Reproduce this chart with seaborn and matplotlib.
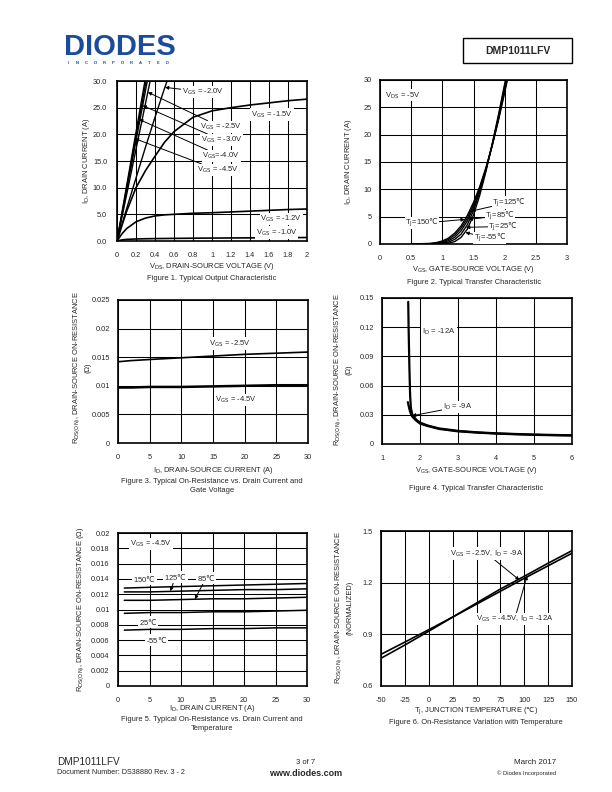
import matplotlib
matplotlib.use("Agg")
import matplotlib.pyplot as plt
from matplotlib.patches import Rectangle
import seaborn as sns

############### Data ##################################
# Figure 1 - output characteristic, I_D (A) vs V_DS (V)
f1_vds_steep = [0.0, 0.1, 0.2, 0.3, 0.4, 0.5, 0.6]
f1_id_m45 = [0.0, 10.2, 20.4, 30.6, 40.8, 51.0, 61.2]
f1_id_m40 = [0.0, 9.8, 19.6, 29.4, 39.2, 49.0, 58.8]
f1_id_m30 = [0.0, 9.4, 18.8, 28.2, 37.6, 47.0, 56.4]
f1_id_m25 = [0.0, 8.6, 17.2, 25.8, 34.4, 43.0, 51.6]
f1_id_m20 = [0.0, 6.0, 11.8, 17.6, 23.2, 28.6, 33.8]
f1_vds = [0.0, 0.05, 0.1, 0.2, 0.3, 0.4, 0.5, 0.6, 0.8, 1.0, 1.2, 1.4, 1.6, 1.8, 2.0]
f1_id_m15 = [0.0, 2.8, 5.5, 10.0, 13.2, 15.9, 18.5, 20.5, 23.2, 24.4, 25.0, 25.5, 25.9, 26.3, 26.6]
f1_id_m12 = [0.0, 1.3, 2.3, 3.6, 4.3, 4.7, 4.9, 5.0, 5.2, 5.3, 5.45, 5.6, 5.75, 5.9, 6.0]
f1_id_m10 = [0.0, 0.2, 0.3, 0.38, 0.42, 0.45, 0.47, 0.49, 0.52, 0.55, 0.57, 0.59, 0.61, 0.63, 0.65]
f1_xticks = [0, 0.2, 0.4, 0.6, 0.8, 1.0, 1.2, 1.4, 1.6, 1.8, 2.0]
f1_xticklabels = ["0", "0.2", "0.4", "0.6", "0.8", "1", "1.2", "1.4", "1.6", "1.8", "2"]
f1_yticks = [0, 5, 10, 15, 20, 25, 30]
f1_yticklabels = ["0.0", "5.0", "10.0", "15.0", "20.0", "25.0", "30.0"]

# Figure 2 - transfer characteristic, I_D (A) vs V_GS (V)
f2_vgs = [0.5, 0.8, 0.9, 1.0, 1.1, 1.2, 1.3, 1.4, 1.5, 1.6, 1.7, 1.8, 1.9, 2.0, 2.1]
f2_id_150 = [0.02, 0.1, 0.25, 0.55, 1.1, 2.0, 3.3, 5.2, 7.6, 10.5, 14.0, 18.0, 22.6, 27.7, 33.0]
f2_id_125 = [0.01, 0.07, 0.17, 0.4, 0.85, 1.65, 2.9, 4.7, 7.2, 10.2, 13.8, 18.0, 22.8, 28.0, 33.5]
f2_id_85 = [0.005, 0.04, 0.1, 0.25, 0.6, 1.25, 2.4, 4.2, 6.7, 9.9, 13.7, 18.1, 23.0, 28.4, 34.0]
f2_id_25 = [0.0, 0.02, 0.05, 0.13, 0.35, 0.85, 1.8, 3.5, 6.1, 9.5, 13.5, 18.2, 23.3, 28.8, 34.5]
f2_id_m55 = [0.0, 0.0, 0.02, 0.05, 0.15, 0.45, 1.2, 2.7, 5.3, 8.9, 13.3, 18.3, 23.6, 29.3, 35.0]
f2_xticks = [0, 0.5, 1.0, 1.5, 2.0, 2.5, 3.0]
f2_xticklabels = ["0", "0.5", "1", "1.5", "2", "2.5", "3"]
f2_yticks = [0, 5, 10, 15, 20, 25, 30]
f2_yticklabels = ["0", "5", "10", "15", "20", "25", "30"]

# Figure 3 - R_DS(ON) (ohm) vs I_D (A)
f3_id = [0, 2, 5, 10, 15, 20, 25, 30]
f3_r_m25 = [0.0142, 0.0144, 0.0146, 0.0149, 0.0152, 0.0155, 0.0157, 0.0159]
f3_r_m45 = [0.0097, 0.0097, 0.0098, 0.0098, 0.0099, 0.0100, 0.0101, 0.0101]
f3_xticks = [0, 5, 10, 15, 20, 25, 30]
f3_xticklabels = ["0", "5", "10", "15", "20", "25", "30"]
f3_yticks = [0, 0.005, 0.01, 0.015, 0.02, 0.025]
f3_yticklabels = ["0", "0.005", "0.01", "0.015", "0.02", "0.025"]

# Figure 4 - R_DS(ON) (ohm) vs V_GS (V)
f4_vgs_12 = [1.69, 1.70, 1.72, 1.74, 1.76, 1.80, 1.9, 2.0, 2.2, 2.5, 3.0, 3.5, 4.0, 4.5, 5.0, 5.5, 6.0]
f4_r_12 = [0.146, 0.12, 0.08, 0.05, 0.037, 0.030, 0.025, 0.022, 0.019, 0.016, 0.0135, 0.012, 0.011,
           0.0103, 0.0097, 0.0093, 0.009]
f4_vgs_9 = [1.68, 1.72, 1.76, 1.8, 1.9, 2.0, 2.2, 2.5, 3.0, 3.5, 4.0, 4.5, 5.0, 5.5, 6.0]
f4_r_9 = [0.043, 0.036, 0.031, 0.028, 0.024, 0.021, 0.0185, 0.0155, 0.013, 0.0117, 0.0107, 0.010,
          0.0094, 0.009, 0.0087]
f4_xticks = [1, 2, 3, 4, 5, 6]
f4_xticklabels = ["1", "2", "3", "4", "5", "6"]
f4_yticks = [0, 0.03, 0.06, 0.09, 0.12, 0.15]
f4_yticklabels = ["0", "0.03", "0.06", "0.09", "0.12", "0.15"]

# Figure 5 - R_DS(ON) (ohm) vs I_D (A), V_GS = -4.5V
f5_id = [1, 5, 10, 15, 20, 25, 30]
f5_r_150 = [0.0128, 0.0129, 0.0130, 0.0131, 0.0132, 0.0133, 0.0134]
f5_r_125 = [0.0123, 0.0123, 0.0124, 0.0125, 0.0126, 0.0126, 0.0127]
f5_r_85 = [0.0112, 0.0112, 0.0113, 0.0114, 0.0114, 0.0115, 0.0116]
f5_r_25 = [0.0095, 0.0096, 0.0096, 0.0097, 0.0097, 0.0098, 0.0099]
f5_r_m55 = [0.0073, 0.0074, 0.0074, 0.0075, 0.0075, 0.0076, 0.0076]
f5_xticks = [0, 5, 10, 15, 20, 25, 30]
f5_xticklabels = ["0", "5", "10", "15", "20", "25", "30"]
f5_yticks = [0, 0.002, 0.004, 0.006, 0.008, 0.01, 0.012, 0.014, 0.016, 0.018, 0.02]
f5_yticklabels = ["0", "0.002", "0.004", "0.006", "0.008", "0.01", "0.012", "0.014", "0.016", "0.018", "0.02"]

# Figure 6 - normalized R_DS(ON) vs T_J (C)
f6_tj = [-50, -25, 0, 25, 50, 75, 100, 125, 150]
f6_r_a = [0.761, 0.838, 0.918, 1.0, 1.082, 1.163, 1.237, 1.313, 1.386]
f6_r_b = [0.784, 0.855, 0.927, 1.0, 1.075, 1.15, 1.225, 1.298, 1.371]
f6_xticks = [-50, -25, 0, 25, 50, 75, 100, 125, 150]
f6_xticklabels = ["-50", "-25", "0", "25", "50", "75", "100", "125", "150"]
f6_yticks = [0.6, 0.9, 1.2, 1.5]
f6_yticklabels = ["0.6", "0.9", "1.2", "1.5"]

############### Style ##################################
sns.set_style("white")
plt.rcParams['font.family'] = ['Liberation Sans', 'DejaVu Sans']
plt.rcParams['mathtext.fontset'] = 'dejavusans'

W, H = 612, 792
TICK = 5.3
LAB = 5.4
CAP = 5.4
ANN = 5.5
DEG = r"$\mathrm{℃}$"

fig = plt.figure(figsize=(W / 100, H / 100), dpi=100)


def add_ax(l, t, r, b):
    return fig.add_axes([l / W, 1 - b / H, (r - l) / W, (b - t) / H])


def ptext(x, y, s, size, **kw):
    kw.setdefault("va", "center")
    kw.setdefault("ha", "center")
    fig.text(x / W, 1 - y / H, s, fontsize=size, **kw)


def setup(ax, xlim, ylim, xt, xtl, yt, ytl, ypad=6):
    ax.set_xlim(xlim)
    ax.set_ylim(ylim)
    ax.set_xticks(xt)
    ax.set_xticklabels(xtl)
    ax.set_yticks(yt)
    ax.set_yticklabels(ytl)
    ax.set_xlabel("")
    ax.set_ylabel("")
    ax.grid(True, color="black", linewidth=0.75)
    ax.set_axisbelow(True)
    ax.tick_params(axis="x", length=0, labelsize=TICK, pad=8)
    ax.tick_params(axis="y", length=0, labelsize=TICK, pad=ypad)
    for s in ax.spines.values():
        s.set_color("black")
        s.set_linewidth(1.2)


def curve(ax, xs, ys, lw=1.0):
    sns.lineplot(x=xs, y=ys, ax=ax, color="black", linewidth=lw,
                 estimator=None, sort=False, legend=False)


def note(ax, text, xytext, tip=None, ha="left", pad=0.12):
    kw = dict(fontsize=ANN, ha=ha, va="center", zorder=5,
              bbox=dict(boxstyle="square,pad=%g" % pad, fc="white", ec="none"))
    if tip is None:
        ax.text(xytext[0], xytext[1], text, **kw)
    else:
        ax.annotate(text, xy=tip, xytext=xytext,
                    arrowprops=dict(arrowstyle="-|>", color="black", lw=0.7,
                                    mutation_scale=5, shrinkA=0, shrinkB=0),
                    **kw)


############### Figure 1 ##################################
ax1 = add_ax(117, 81, 307, 241)
for ys in [f1_id_m45, f1_id_m40, f1_id_m30, f1_id_m25, f1_id_m20]:
    curve(ax1, f1_vds_steep, ys)
for ys in [f1_id_m15, f1_id_m12, f1_id_m10]:
    curve(ax1, f1_vds, ys, lw=1.2)
setup(ax1, (0, 2), (0, 30), f1_xticks, f1_xticklabels, f1_yticks, f1_yticklabels, ypad=7)
note(ax1, r"V$_\mathrm{GS}$ = -2.0V", (0.68, 28.0), (0.505, 28.8))
note(ax1, r"V$_\mathrm{GS}$ = -2.5V", (0.87, 21.4), (0.325, 27.9))
note(ax1, r"V$_\mathrm{GS}$ = -3.0V", (0.88, 18.9), (0.27, 25.4))
note(ax1, r"V$_\mathrm{GS}$=-4.0V", (0.90, 15.9), (0.233, 22.8))
note(ax1, r"V$_\mathrm{GS}$ = -4.5V", (0.84, 13.3), (0.188, 19.2))
note(ax1, r"V$_\mathrm{GS}$ = -1.5V", (1.41, 23.7))
note(ax1, r"V$_\mathrm{GS}$ = -1.2V", (1.51, 4.1))
note(ax1, r"V$_\mathrm{GS}$ = -1.0V", (1.46, 1.6))
ptext(86.5, 161, r"I$_\mathrm{D}$, DRAIN CURRENT (A)", LAB, rotation=90)
ptext(212, 267, r"V$_\mathrm{DS}$, DRAIN-SOURCE VOLTAGE (V)", LAB)
ptext(212, 279, "Figure 1. Typical Output Characteristic", CAP)

############### Figure 2 ##################################
ax2 = add_ax(380, 80, 567, 244)
for ys in [f2_id_150, f2_id_125, f2_id_85, f2_id_25, f2_id_m55]:
    curve(ax2, f2_vgs, ys)
setup(ax2, (0, 3), (0, 30), f2_xticks, f2_xticklabels, f2_yticks, f2_yticklabels)
note(ax2, r"V$_\mathrm{DS}$ = -5V", (0.08, 27.2))
note(ax2, r"T$_\mathrm{J}$=125" + DEG, (1.80, 7.6), (1.46, 6.0), pad=0.02)
note(ax2, r"T$_\mathrm{J}$=85" + DEG, (1.69, 5.15), (1.42, 4.5), pad=0.02)
note(ax2, r"T$_\mathrm{J}$=25" + DEG, (1.74, 3.2), (1.38, 3.05), pad=0.02)
note(ax2, r"T$_\mathrm{J}$=-55" + DEG, (1.50, 1.1), (1.37, 2.1), pad=0.02)
note(ax2, r"T$_\mathrm{J}$=150" + DEG, (0.94, 3.8), (1.36, 4.5), ha="right", pad=0.02)
ptext(349, 162, r"I$_\mathrm{D}$, DRAIN CURRENT (A)", LAB, rotation=90)
ptext(474, 270, r"V$_\mathrm{GS}$, GATE-SOURCE VOLTAGE (V)", LAB)
ptext(474, 282, "Figure 2. Typical Transfer Characteristic", CAP)

############### Figure 3 ##################################
ax3 = add_ax(118, 300, 308, 443)
curve(ax3, f3_id, f3_r_m25, lw=1.2)
curve(ax3, f3_id, f3_r_m45, lw=1.8)
setup(ax3, (0, 30), (0, 0.025), f3_xticks, f3_xticklabels, f3_yticks, f3_yticklabels)
note(ax3, r"V$_\mathrm{GS}$ = -2.5V", (14.3, 0.0174))
note(ax3, r"V$_\mathrm{GS}$ = -4.5V", (15.3, 0.0075))
ptext(81.5, 368, "R$_\\mathrm{DS(ON)}$, DRAIN-SOURCE ON-RESISTANCE\n(Ω)", LAB,
      rotation=90, multialignment="center", linespacing=1.5)
ptext(213, 470, r"I$_\mathrm{D}$, DRAIN-SOURCE CURRENT (A)", LAB)
ptext(212, 478, "Figure 3. Typical On-Resistance vs. Drain Current and\nGate Voltage", CAP,
      va="top", linespacing=1.5)

############### Figure 4 ##################################
ax4 = add_ax(382, 298, 572, 444)
curve(ax4, f4_vgs_12, f4_r_12, lw=1.6)
curve(ax4, f4_vgs_9, f4_r_9, lw=1.6)
setup(ax4, (1, 6), (0, 0.15), f4_xticks, f4_xticklabels, f4_yticks, f4_yticklabels)
note(ax4, r"I$_\mathrm{D}$ = -12A", (2.06, 0.115))
note(ax4, r"I$_\mathrm{D}$ = -9A", (2.6, 0.038), (1.79, 0.029))
ptext(342.5, 370, "R$_\\mathrm{DS(ON)}$, DRAIN-SOURCE ON-RESISTANCE\n(Ω)", LAB,
      rotation=90, multialignment="center", linespacing=1.5)
ptext(477, 470, r"V$_\mathrm{GS}$, GATE-SOURCE VOLTAGE (V)", LAB)
ptext(476, 488, "Figure 4. Typical Transfer Characteristic", CAP)

############### Figure 5 ##################################
ax5 = add_ax(118, 533, 307, 686)
for ys in [f5_r_150, f5_r_125, f5_r_85, f5_r_25, f5_r_m55]:
    curve(ax5, f5_id, ys, lw=1.1)
setup(ax5, (0, 30), (0, 0.02), f5_xticks, f5_xticklabels, f5_yticks, f5_yticklabels)
note(ax5, r"V$_\mathrm{GS}$ = -4.5V", (1.9, 0.0186))
note(ax5, "150" + DEG, (2.4, 0.014))
note(ax5, "125" + DEG, (7.3, 0.0142), (8.3, 0.0124))
note(ax5, "85" + DEG, (12.5, 0.0141), (12.2, 0.01135))
note(ax5, "25" + DEG, (3.3, 0.0084))
note(ax5, "-55" + DEG, (4.4, 0.006))
ptext(81, 609, "R$_\\mathrm{DS(ON)}$, DRAIN-SOURCE ON-RESISTANCE (Ω)", LAB, rotation=90)
ptext(212, 709, r"I$_\mathrm{D}$, DRAIN CURRENT (A)", LAB)
ptext(212, 716, "Figure 5. Typical On-Resistance vs. Drain Current and\nTemperature", CAP,
      va="top", linespacing=1.5)

############### Figure 6 ##################################
ax6 = add_ax(381, 531, 572, 686)
curve(ax6, f6_tj, f6_r_a, lw=1.2)
curve(ax6, f6_tj, f6_r_b, lw=1.2)
setup(ax6, (-50, 150), (0.6, 1.5), f6_xticks, f6_xticklabels, f6_yticks, f6_yticklabels)
note(ax6, r"V$_\mathrm{GS}$ = -2.5V, I$_\mathrm{D}$ = -9A", (22.3, 1.37), (95, 1.215))
note(ax6, r"V$_\mathrm{GS}$ = -4.5V, I$_\mathrm{D}$ = -12A", (49.5, 0.99), (103, 1.24))
ptext(343, 608, "R$_\\mathrm{DS(ON)}$, DRAIN-SOURCE ON-RESISTANCE\n(NORMALIZED)", LAB,
      rotation=90, multialignment="center", linespacing=1.5)
ptext(476, 711, r"T$_\mathrm{J}$, JUNCTION TEMPERATURE (" + DEG + ")", LAB)
ptext(476, 723, "Figure 6. On-Resistance Variation with Temperature", CAP)

############### Header / footer ##################################
ptext(64, 47, "DIODES", 21, ha="left", fontweight="bold", color="#1b4c9c")
for i, ch in enumerate("INCORPORATED"):
    ptext(68 + i * 9.0, 63, ch, 3.0, color="#1b4c9c", fontweight="bold")
fig.patches.append(Rectangle((463 / W, 1 - 63 / H), 109 / W, 25 / H, transform=fig.transFigure,
                             fill=False, edgecolor="black", linewidth=1.0))
ptext(517.5, 50.5, "DMP1011LFV", 7.5, fontweight="bold")

ptext(57, 762, "DMP1011LFV", 7.2, ha="left")
ptext(57, 773, "Document Number: DS38880 Rev. 3 - 2", 5.2, ha="left")
ptext(306, 762, "3 of 7", 5.5)
ptext(306, 773, "www.diodes.com", 6.5, fontweight="bold")
ptext(556, 762, "March 2017", 5.8, ha="right")
ptext(556, 773, "© Diodes Incorporated", 4.2, ha="right")

fig.savefig("out.png", dpi=100)
